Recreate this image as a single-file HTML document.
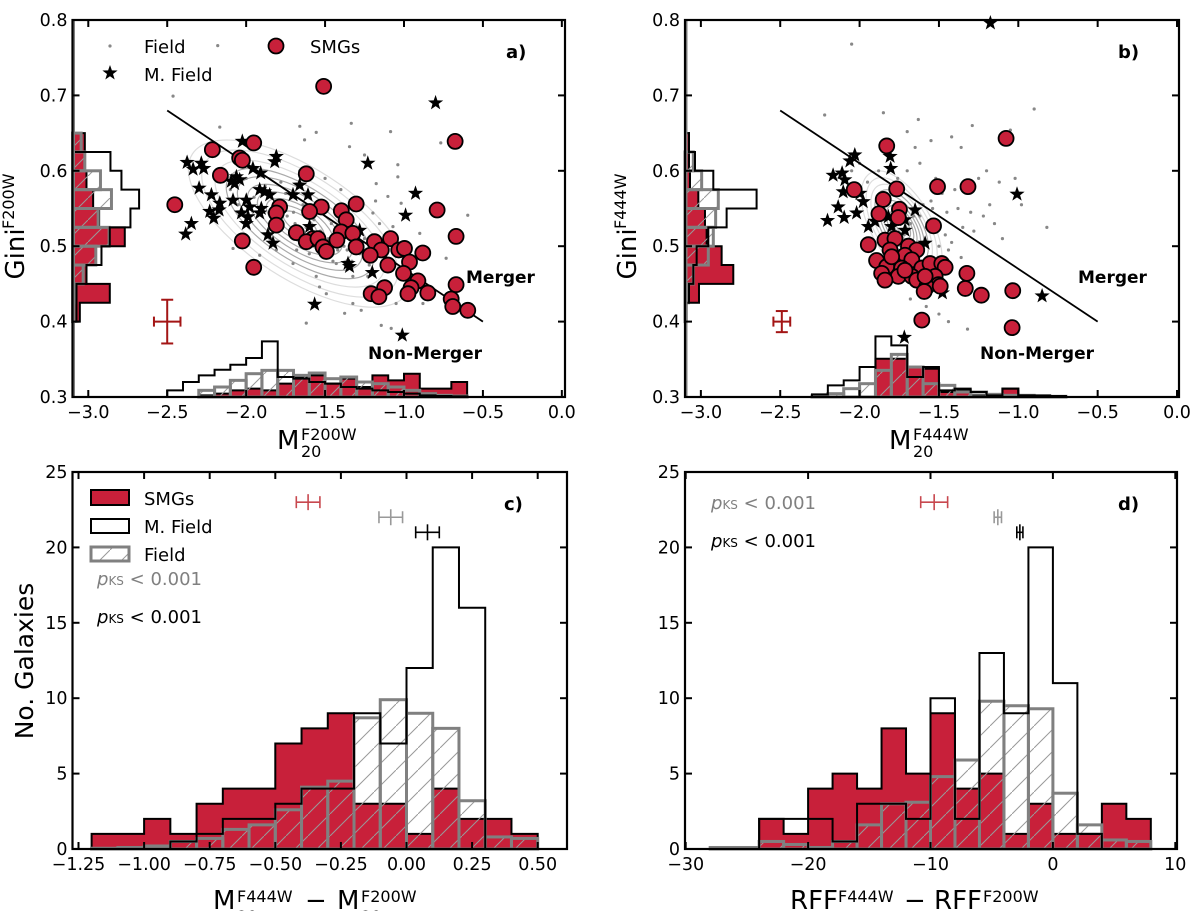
<!DOCTYPE html>
<html><head><meta charset="utf-8"><style>
html,body{margin:0;padding:0;background:#fff}
svg{display:block;font-family:"DejaVu Sans","Liberation Sans",sans-serif}
</style></head><body>
<svg id="fig" width="1200" height="911" viewBox="0 0 1200 911" xmlns="http://www.w3.org/2000/svg">
<defs>
<pattern id="hatch" patternUnits="userSpaceOnUse" width="22" height="22">
<path d="M-2,24 L24,-2" stroke="#999" stroke-width="1"/>
</pattern>
</defs>
<g id="layer"></g>
</svg>
<script>
// ===== data: panel a (Gini vs M20, F200W) =====
const smgA_x=[-1.509,-0.676,-1.952,-2.214,-2.041,-2.024,-2.163,-1.619,-2.452,-0.79,-1.788,-1.809,-1.303,-1.524,-1.598,-1.397,-1.366,-1.809,-0.670,-1.398,-1.324,-1.682,-1.577,-1.619,-1.425,-1.545,-1.303,-2.024,-1.513,-1.492,-1.187,-1.085,-1.144,-1.214,-1.033,-0.997,-0.881,-0.965,-1.102,-1.952,-1.003,-0.912,-0.670,-0.955,-1.123,-1.208,-1.159,-0.975,-0.849,-0.701,-0.691,-0.596];
const smgA_y=[0.712,0.639,0.637,0.628,0.617,0.614,0.594,0.596,0.555,0.548,0.552,0.544,0.556,0.552,0.546,0.547,0.535,0.528,0.513,0.519,0.517,0.518,0.510,0.506,0.508,0.510,0.499,0.507,0.499,0.493,0.506,0.510,0.495,0.488,0.495,0.497,0.491,0.479,0.475,0.472,0.464,0.454,0.449,0.445,0.445,0.437,0.433,0.437,0.438,0.430,0.420,0.415];
const mfA_x=[-0.800,-2.024,-1.809,-1.819,-2.374,-2.284,-2.269,-2.336,-1.229,-1.957,-1.908,-2.062,-2.094,-2.073,-2.041,-2.298,-0.927,-2.220,-2.167,-2.171,-2.231,-2.205,-2.347,-2.383,-2.083,-1.999,-1.978,-1.988,-2.030,-1.999,-1.914,-1.883,-1.851,-1.904,-1.914,-1.703,-1.661,-1.608,-0.990,-1.862,-1.830,-1.598,-1.281,-1.355,-1.345,-1.201,-1.566,-1.011];
const mfA_y=[0.690,0.639,0.619,0.612,0.611,0.610,0.603,0.602,0.610,0.603,0.597,0.592,0.586,0.583,0.588,0.577,0.570,0.568,0.557,0.548,0.546,0.537,0.530,0.516,0.561,0.561,0.552,0.539,0.544,0.530,0.575,0.572,0.568,0.550,0.544,0.568,0.581,0.568,0.541,0.515,0.504,0.526,0.521,0.477,0.473,0.465,0.423,0.382];
const fA_x=[-2.463,-2.18,-1.66,-1.556,-1.334,-1.085,-2.167,-1.630,-1.345,-1.25,-1.039,-0.767,-0.596,-0.733,-0.90,-1.039,-1.176,-1.018,-1.102,-1.197,-1.155,-1.07,-2.083,-1.914,-1.809,-1.703,-1.556,-1.535,-1.492,-1.376,-1.271,-1.619,-1.144,-1.081,-1.324,-1.429,-1.324,-1.229,-0.90,-0.88,-1.05,-2.10,-2.0,-1.95,-1.88,-1.82,-1.75,-1.70,-1.64,-1.58,-1.52,-1.46,-1.40,-1.35,-1.30,-1.25,-1.20,-1.15,-1.90,-1.80,-1.72,-1.62,-1.55,-1.48,-1.42,-1.38,-1.28,-2.05,-1.85,-1.68,-1.60,-1.45,-1.33,-1.22,-1.12,-1.78,-1.66,-1.50,-1.40,-1.18,-1.74,-1.57,-1.43,-1.31,-1.26,-1.60,-1.47,-1.36,-1.69,-1.53,-1.39];
const fA_y=[0.699,0.766,0.659,0.651,0.663,0.652,0.658,0.641,0.632,0.621,0.608,0.637,0.541,0.484,0.517,0.592,0.583,0.557,0.566,0.544,0.530,0.526,0.497,0.488,0.495,0.477,0.460,0.446,0.437,0.411,0.415,0.398,0.395,0.391,0.424,0.477,0.460,0.460,0.460,0.424,0.424,0.575,0.590,0.565,0.580,0.560,0.570,0.545,0.555,0.540,0.545,0.530,0.535,0.520,0.525,0.510,0.515,0.505,0.545,0.530,0.520,0.525,0.505,0.510,0.495,0.500,0.490,0.555,0.505,0.495,0.490,0.480,0.480,0.475,0.470,0.585,0.600,0.590,0.575,0.560,0.540,0.535,0.515,0.505,0.490,0.515,0.500,0.495,0.530,0.520,0.510];
const hAy_edges=[0.65,0.625,0.6,0.575,0.55,0.525,0.5,0.475,0.45,0.425,0.4];
const hAy_smg=[3.7,3.7,4.2,6.2,8.0,15.7,7.0,4.2,11.2,2.2];
const hAy_mf=[0,11.4,14.7,20.0,17.4,11.2,8.7,4.2,1.2,1.2];
const hAy_fd=[2.6,3.7,8.4,11.7,7.7,11.0,7.0,3.2,0.7,0.4];
const hAx_edges=[-2.5,-2.4,-2.3,-2.2,-2.1,-2.0,-1.9,-1.8,-1.7,-1.6,-1.5,-1.4,-1.3,-1.2,-1.1,-1.0,-0.9,-0.8,-0.7,-0.6,-0.5];
const hAx_smg=[0,0,0.5,1,2.0,2.5,2.0,4.0,6.0,6.5,4.0,5.5,3.0,6.5,5.0,7.0,2.5,2.5,4.5,0];
const hAx_mf=[2,4.5,6.5,8.2,9.7,11.7,16.7,6.0,5.5,4.5,4.0,3.0,2.5,2.0,1.5,1.0,0.5,0.3,0.2,0];
const hAx_fd=[0,0,2.0,3.0,5.0,7.0,8.0,8.0,6.5,7.2,5.5,6.0,4.5,4.0,3.0,2.0,1.0,0.5,0.3,0];
// ===== data: panel b (F444W) =====
const smgB_x=[-1.077,-1.829,-2.034,-1.766,-1.509,-1.317,-1.851,-1.878,-1.749,-1.756,-1.534,-1.945,-1.840,-1.777,-1.692,-1.640,-1.714,-1.893,-1.787,-1.671,-1.829,-1.735,-1.608,-1.556,-1.482,-1.461,-1.861,-1.756,-1.671,-1.524,-1.840,-1.640,-1.503,-1.577,-1.492,-1.324,-1.334,-1.233,-1.035,-1.593,-1.608,-1.039,-1.808,-1.798,-1.714,-1.587];
const smgB_y=[0.643,0.633,0.575,0.576,0.579,0.579,0.562,0.543,0.549,0.538,0.527,0.502,0.508,0.510,0.500,0.495,0.488,0.481,0.477,0.482,0.473,0.471,0.471,0.477,0.477,0.472,0.464,0.460,0.460,0.460,0.455,0.455,0.449,0.446,0.447,0.464,0.444,0.435,0.441,0.440,0.402,0.392,0.495,0.486,0.468,0.460];
const mfB_x=[-1.176,-1.008,-0.850,-1.718,-2.030,-2.061,-1.808,-1.804,-2.167,-2.110,-2.093,-2.103,-2.135,-2.202,-2.097,-2.019,-1.977,-1.998,-1.945,-1.903,-1.819,-1.798,-1.714,-1.650,-1.714,-1.587,-1.478];
const mfB_y=[0.796,0.569,0.434,0.379,0.621,0.613,0.619,0.603,0.594,0.597,0.588,0.572,0.552,0.534,0.538,0.544,0.559,0.570,0.526,0.533,0.539,0.526,0.535,0.548,0.521,0.504,0.438];
const fB_x=[-2.05,-2.22,-1.85,-1.63,-1.29,-0.90,-1.05,-1.42,-1.55,-1.65,-1.70,-1.36,-1.20,-1.25,-1.12,-1.02,-0.98,-0.82,-1.18,-1.40,-1.48,-1.55,-1.60,-1.45,-1.38,-1.30,-1.22,-1.15,-1.10,-1.28,-1.35,-1.52,-1.62,-1.68,-1.58,-1.46,-1.42,-1.50,-1.60,-1.72,-1.80,-1.66,-1.54,-1.88,-1.95,-2.05,-2.00,-1.76,-1.70,-1.62,-1.52,-1.44,-1.36,-1.68,-1.58,-1.50,-1.44,-1.32];
const fB_y=[0.768,0.674,0.677,0.668,0.660,0.682,0.654,0.645,0.640,0.631,0.652,0.631,0.600,0.590,0.585,0.590,0.555,0.525,0.555,0.575,0.570,0.560,0.555,0.545,0.550,0.545,0.540,0.530,0.510,0.520,0.525,0.535,0.540,0.530,0.525,0.515,0.505,0.500,0.505,0.515,0.520,0.540,0.550,0.600,0.585,0.600,0.610,0.590,0.600,0.610,0.590,0.495,0.485,0.430,0.420,0.410,0.400,0.390];
const hBy_edges=[0.65,0.625,0.6,0.575,0.55,0.525,0.5,0.475,0.45,0.425,0.4];
const hBy_smg=[1.2,1.2,1.5,4.0,6.0,6.5,11.0,14.5,4.2,0];
const hBy_mf=[1.2,3.0,8.5,21.5,12.5,7.0,3.5,2.5,1.2,0.5];
const hBy_fd=[0,2.5,5.0,10.0,9.2,8.5,7.0,2.5,1.0,0.3];
const hBx_edges=[-2.3,-2.2,-2.1,-2.0,-1.9,-1.8,-1.7,-1.6,-1.5,-1.4,-1.3,-1.2,-1.1,-1.0,-0.9,-0.8,-0.7];
const hBx_smg=[0,0,0,0,11.5,11.5,9.0,8.5,1.5,2.0,0.5,0,2.5,0.3,0,0];
const hBx_mf=[0.8,3.5,5.0,9.0,18.2,15.5,6.0,9.0,2.0,2.5,1.5,0.5,2.5,0.5,0.5,0.3];
const hBx_fd=[0.3,1.0,2.5,4.0,8.0,12.8,9.0,4.0,3.5,1.5,1.5,0.8,0.5,0.5,0.3,0.2];
// ===== data: panel c =====
const cEdges=[-1.2,-1.1,-1.0,-0.9,-0.8,-0.7,-0.6,-0.5,-0.4,-0.3,-0.2,-0.1,0.0,0.1,0.2,0.3,0.4,0.5];
const cSMG=[1,1,2,1,3,4,4,7,8,9,3,3,1,4,2,2,1];
const cMF=[0,0,0,0.5,1,2,2,3,4,4,9,7,12,20,16,0,0];
const cField=[0.05,0.1,0.2,0.5,0.7,1.3,1.6,2.6,4.1,4.5,8.7,9.9,9.0,8.0,3.2,0.8,0.7];
const cErrX=[-0.375,-0.06,0.08], cErrY=[23,22,21], cErrDx=[0.045,0.045,0.045];
// ===== data: panel d =====
const dEdges=[-28,-26,-24,-22,-20,-18,-16,-14,-12,-10,-8,-6,-4,-2,0,2,4,6,8];
const dSMG=[0,0,2,1,4,5,4,8,5,9,4,5,1,3,1,1,3,2];
const dMF=[0,0,2,2,2,0.5,3,3,2,10,2,13,9,20,11,1,0,0];
const dField=[0.1,0.1,0.5,0.3,0.1,0.5,1.6,3.0,3.1,4.8,5.9,9.8,9.5,9.3,3.7,1.6,0.6,0.5];
const dErrX=[-9.7,-4.5,-2.7], dErrY=[23,22,21], dErrDx=[1.1,0.3,0.25];
const xTicksTop=[-3.0,-2.5,-2.0,-1.5,-1.0,-0.5,0.0];
const yTicksTop=[0.3,0.4,0.5,0.6,0.7,0.8];
const xTicksC=[-1.25,-1.00,-0.75,-0.50,-0.25,0.00,0.25,0.50];
const xTicksD=[-30,-20,-10,0,10];
const yTicksBot=[0,5,10,15,20,25];
const divX=[-2.5,-0.5], divY=[0.68,0.40];
const errA=[-2.5,0.40,0.084,0.029], errB=[-2.49,0.40,0.053,0.014];
const contA=[-1.66,0.530], contB=[-1.735,0.526];

const RED='#c8203a', GRAY='#808080';
const NS='http://www.w3.org/2000/svg';
const layer=document.getElementById('layer');
function mk(tag,attrs,parent){const e=document.createElementNS(NS,tag);for(const k in attrs)e.setAttribute(k,attrs[k]);(parent||layer).appendChild(e);return e;}
function lin(d0,d1,p0,p1){return v=>p0+(v-d0)*(p1-p0)/(d1-d0);}
function fmt(v,d){return (v<0?'\u2212':'')+Math.abs(v).toFixed(d);}

const P={
 a:{L:72.5,R:565,T:20,B:397,x:lin(-3.1,0.02,72.5,565),y:lin(0.3,0.8,397,20)},
 b:{L:685,R:1179,T:20,B:397,x:lin(-3.1,0.0125,685,1179),y:lin(0.3,0.8,397,20)},
 c:{L:72.5,R:567,T:472,B:849,x:lin(-1.25,0.5,78.5,537.7),y:lin(0,25,849,472)},
 d:{L:685,R:1177,T:472,B:849,x:lin(-30,10,685.7,1175.3),y:lin(0,25,849,472)}
};
const HS=3.33;
const TF=17.5;

function axes(p,name,xt,xd,yt,yd){
 const g=mk('g',{});
 
 
 xt.forEach(v=>{const X=p.x(v);
  const t1=mk('line',{x1:X,x2:X,y1:p.B,y2:p.B-7,stroke:'#000','stroke-width':2},g);
  
  mk('line',{x1:X,x2:X,y1:p.T,y2:p.T+7,stroke:'#000','stroke-width':2},g);
  const t=mk('text',{x:X,y:p.B+21,'font-size':TF,'text-anchor':'middle'},g);t.textContent=fmt(v,xd);
  });
 yt.forEach(v=>{const Y=p.y(v);
  mk('line',{x1:p.L,x2:p.L+7,y1:Y,y2:Y,stroke:'#000','stroke-width':2},g);
  mk('line',{x1:p.R,x2:p.R-7,y1:Y,y2:Y,stroke:'#000','stroke-width':2},g);
  const t=mk('text',{x:p.L-5,y:Y+6,'font-size':TF,'text-anchor':'end'},g);t.textContent=fmt(v,yd);
  });
 const fr=mk('rect',{x:p.L,y:p.T,width:p.R-p.L,height:p.B-p.T,fill:'none',stroke:'#000','stroke-width':2.2});
 
}
function star(cx,cy,r,parent){let d='';for(let i=0;i<10;i++){const a=-Math.PI/2+i*Math.PI/5;const rr=i%2?r*0.4:r;d+=(i?'L':'M')+(cx+rr*Math.cos(a)).toFixed(1)+','+(cy+rr*Math.sin(a)).toFixed(1);}
 return mk('path',{d:d+'Z',fill:'#000'},parent);}
function stepPath(edges,vals,toX,toY){let d='M'+toX(edges[0])+','+toY(0);vals.forEach((v,i)=>{d+='L'+toX(edges[i])+','+toY(v)+'L'+toX(edges[i+1])+','+toY(v);});d+='L'+toX(edges[edges.length-1])+','+toY(0);return d;}

function histSet(edges,smg,mf,fd,toX,toY,name){
 const g=mk('g',{});
 
 
 const r=mk('path',{d:stepPath(edges,smg,toX,toY),fill:RED,stroke:'#000','stroke-width':2},g);
 
 fd.forEach((v,i)=>{if(v<=0)return;
  const x0=toX(edges[i]),x1=toX(edges[i+1]),y0=toY(0),y1=toY(v);
  const b=mk('rect',{x:Math.min(x0,x1),y:Math.min(y0,y1),width:Math.abs(x1-x0),height:Math.abs(y1-y0),fill:'url(#hatch)',stroke:GRAY,'stroke-width':3},g);
  });
 const m=mk('path',{d:stepPath(edges,mf,toX,toY),fill:'none',stroke:'#000','stroke-width':2},g);
 
}
function sideLeft(p,edges,smg,mf,fd,name){
 const g=mk('g',{});
 const bx=v=>p.L+v*HS;
 function sp(vals){let d='M'+p.L+','+p.y(edges[0]);vals.forEach((v,i)=>{d+='L'+bx(v)+','+p.y(edges[i])+'L'+bx(v)+','+p.y(edges[i+1]);});return d+'L'+p.L+','+p.y(edges[edges.length-1]);}
 const r=mk('path',{d:sp(smg),fill:RED,stroke:'#000','stroke-width':2},g);
 fd.forEach((v,i)=>{if(v<=0)return;const y0=p.y(edges[i]),y1=p.y(edges[i+1]);
  const b=mk('rect',{x:p.L,y:y0,width:v*HS,height:y1-y0,fill:'url(#hatch)',stroke:GRAY,'stroke-width':3},g);});
 const m=mk('path',{d:sp(mf),fill:'none',stroke:'#000','stroke-width':2},g);
 mk('line',{x1:p.L+1,x2:p.L+1,y1:p.T,y2:p.B,stroke:GRAY,'stroke-width':3},g);
}

function scatterPanel(p,key,smx,smy,mfx,mfy,fx,fy,cont,contRot,contRx,contRy,err){
 const cg=mk('g',{});
 const cx=p.x(cont[0]),cy=p.y(cont[1]);
 [1,0.88,0.76,0.66,0.56,0.47,0.38,0.3,0.22,0.15].forEach((s,i)=>{
  mk('ellipse',{cx:cx,cy:cy,rx:contRx*s,ry:contRy*s,fill:'none',stroke:i<3?'#ddd':'#aaa','stroke-width':1.2,transform:`rotate(${contRot} ${cx} ${cy})`},cg);});
 fx.forEach((v,i)=>{const c=mk('circle',{cx:p.x(v),cy:p.y(fy[i]),r:1.6,fill:'#888'});
  });
 const l=mk('line',{x1:p.x(divX[0]),y1:p.y(divY[0]),x2:p.x(divX[1]),y2:p.y(divY[1]),stroke:'#000','stroke-width':1.8});
 
 mfx.forEach((v,i)=>{const s=star(p.x(v),p.y(mfy[i]),8);
  });
 smx.forEach((v,i)=>{const c=mk('circle',{cx:p.x(v),cy:p.y(smy[i]),r:7.5,fill:RED,stroke:'#000','stroke-width':1.8});
  });
 const eg=mk('g',{stroke:'#a31515','stroke-width':2});
 const ex=p.x(err[0]),ey=p.y(err[1]),x0=p.x(err[0]-err[2]),x1=p.x(err[0]+err[2]),y0=p.y(err[1]-err[3]),y1=p.y(err[1]+err[3]);
 mk('line',{x1:x0,x2:x1,y1:ey,y2:ey},eg);mk('line',{x1:ex,x2:ex,y1:y0,y2:y1},eg);
 mk('line',{x1:x0,x2:x0,y1:ey-5,y2:ey+5},eg);mk('line',{x1:x1,x2:x1,y1:ey-5,y2:ey+5},eg);
 mk('line',{x1:ex-6,x2:ex+6,y1:y0,y2:y0},eg);mk('line',{x1:ex-6,x2:ex+6,y1:y1,y2:y1},eg);
}

scatterPanel(P.a,'panel-a',smgA_x,smgA_y,mfA_x,mfA_y,fA_x,fA_y,contA,33,128,55,errA);
sideLeft(P.a,hAy_edges,hAy_smg,hAy_mf,hAy_fd,'panel-a-gini-hist');
histSet(hAx_edges,hAx_smg,hAx_mf,hAx_fd,P.a.x,v=>P.a.B-v*HS,'panel-a-m20-hist');
axes(P.a,'panel-a',xTicksTop,1,yTicksTop,1);
scatterPanel(P.b,'panel-b',smgB_x,smgB_y,mfB_x,mfB_y,fB_x,fB_y,contB,60,62,30,errB);
sideLeft(P.b,hBy_edges,hBy_smg,hBy_mf,hBy_fd,'panel-b-gini-hist');
histSet(hBx_edges,hBx_smg,hBx_mf,hBx_fd,P.b.x,v=>P.b.B-v*HS,'panel-b-m20-hist');
axes(P.b,'panel-b',xTicksTop,1,yTicksTop,1);
histSet(cEdges,cSMG,cMF,cField,P.c.x,P.c.y,'panel-c-hist');
axes(P.c,'panel-c',xTicksC,2,yTicksBot,0);
histSet(dEdges,dSMG,dMF,dField,P.d.x,P.d.y,'panel-d-hist');
axes(P.d,'panel-d',xTicksD,0,yTicksBot,0);
function errs(p,xs,ys,dx,key){const cols=['#c8484f','#999','#000'];
 xs.forEach((v,i)=>{const g=mk('g',{stroke:cols[i],'stroke-width':1.6});
  
  const X=p.x(v),Y=p.y(ys[i]),a=p.x(v-dx[i]),b=p.x(v+dx[i]);
  mk('line',{x1:a,x2:b,y1:Y,y2:Y},g);mk('line',{x1:X,x2:X,y1:Y-8,y2:Y+8},g);
  mk('line',{x1:a,x2:a,y1:Y-6,y2:Y+6},g);mk('line',{x1:b,x2:b,y1:Y-6,y2:Y+6},g);});}
errs(P.c,cErrX,cErrY,cErrDx,'panel-c');
errs(P.d,dErrX,dErrY,dErrDx,'panel-d');

function txt(x,y,s,attrs,name){const t=mk('text',Object.assign({x:x,y:y},attrs||{}));t.textContent=s;
 return t;}
function m20(x,y,filt,name){txt(x,y,'M',{'font-size':26},name);txt(x+24,y-9,filt,{'font-size':16},name+'-sup');txt(x+24,y+8,'20',{'font-size':16},name+'-sub');}
m20(277,449,'F200W','panel-a-x-title');
m20(889,449,'F444W','panel-b-x-title');
function gini(cx,cy,filt,name){const g=mk('g',{transform:`translate(${cx},${cy}) rotate(-90)`});
 const t=mk('text',{x:-22,y:0,'font-size':26,'text-anchor':'middle'},g);t.textContent='Gini';
 const s=mk('text',{x:3,y:-10,'font-size':16,'text-anchor':'start'},g);s.textContent=filt;}
gini(24,232,'F200W','panel-a-y-title');
gini(636,232,'F444W','panel-b-y-title');
(function(){const g=mk('g',{transform:'translate(33,661) rotate(-90)'});
 const t=mk('text',{x:0,y:0,'font-size':25,'text-anchor':'middle'},g);t.textContent='No. Galaxies';})();
txt(213,909,'M',{'font-size':26},'panel-c-x-title');txt(237,902,'F444W',{'font-size':16},'panel-c-x-title-sup1');txt(237,922,'20',{'font-size':16},'panel-c-x-title-sub1');
txt(305,909,'\u2212',{'font-size':26},'panel-c-x-title-minus');
txt(337,909,'M',{'font-size':26},'panel-c-x-title-m2');txt(361,902,'F200W',{'font-size':16},'panel-c-x-title-sup2');txt(361,922,'20',{'font-size':16},'panel-c-x-title-sub2');
txt(790,909,'RFF',{'font-size':26},'panel-d-x-title');txt(838,902,'F444W',{'font-size':16},'panel-d-x-title-sup1');
txt(904,909,'\u2212',{'font-size':26},'panel-d-x-title-minus');
txt(934,909,'RFF',{'font-size':26},'panel-d-x-title-rff2');txt(983,902,'F200W',{'font-size':16},'panel-d-x-title-sup2');
txt(506,58,'a)',{'font-size':18,'font-weight':'bold'},'panel-a-letter');
txt(1118,58,'b)',{'font-size':18,'font-weight':'bold'},'panel-b-letter');
txt(504,510,'c)',{'font-size':18,'font-weight':'bold'},'panel-c-letter');
txt(1118,510,'d)',{'font-size':18,'font-weight':'bold'},'panel-d-letter');
txt(466,283,'Merger',{'font-size':17,'font-weight':'bold'},'panel-a-merger-label');
txt(368,359,'Non-Merger',{'font-size':17,'font-weight':'bold'},'panel-a-nonmerger-label');
txt(1078,283,'Merger',{'font-size':17,'font-weight':'bold'},'panel-b-merger-label');
txt(980,359,'Non-Merger',{'font-size':17,'font-weight':'bold'},'panel-b-nonmerger-label');
(function(){const g=mk('g',{});
 mk('circle',{cx:110,cy:46,r:1.6,fill:'#888'},g);
 star(110,73,8,g);
 mk('circle',{cx:276,cy:46,r:7.5,fill:RED,stroke:'#000','stroke-width':1.8},g);
 const a=mk('text',{x:144,y:53,'font-size':18},g);a.textContent='Field';
 const b=mk('text',{x:144,y:81,'font-size':18},g);b.textContent='M. Field';
 const c=mk('text',{x:310,y:53,'font-size':18},g);c.textContent='SMGs';})();
(function(){const g=mk('g',{});
 mk('rect',{x:91,y:490,width:38,height:15,fill:RED,stroke:'#000','stroke-width':2},g);
 mk('rect',{x:91,y:519,width:38,height:14,fill:'#fff',stroke:'#000','stroke-width':2},g);
 mk('rect',{x:91,y:547,width:38,height:14,fill:'url(#hatch)',stroke:GRAY,'stroke-width':3},g);
 [['SMGs',505],['M. Field',533],['Field',561]].forEach(e=>{const t=mk('text',{x:144,y:e[1],'font-size':18},g);t.textContent=e[0];});})();
function pks(x,y,col,name){const t=mk('text',{x:x,y:y,'font-size':18,fill:col});
 const a=mk('tspan',{'font-style':'italic'},t);a.textContent='p';
 const b=mk('tspan',{'font-size':12},t);b.textContent='KS';
 const c=mk('tspan',{},t);c.textContent=' < 0.001';}
pks(97,585,GRAY,'panel-c-pks-field');
pks(97,623,'#000','panel-c-pks-mfield');
pks(711,509,GRAY,'panel-d-pks-field');
pks(711,547,'#000','panel-d-pks-mfield');
</script>
</body></html>
